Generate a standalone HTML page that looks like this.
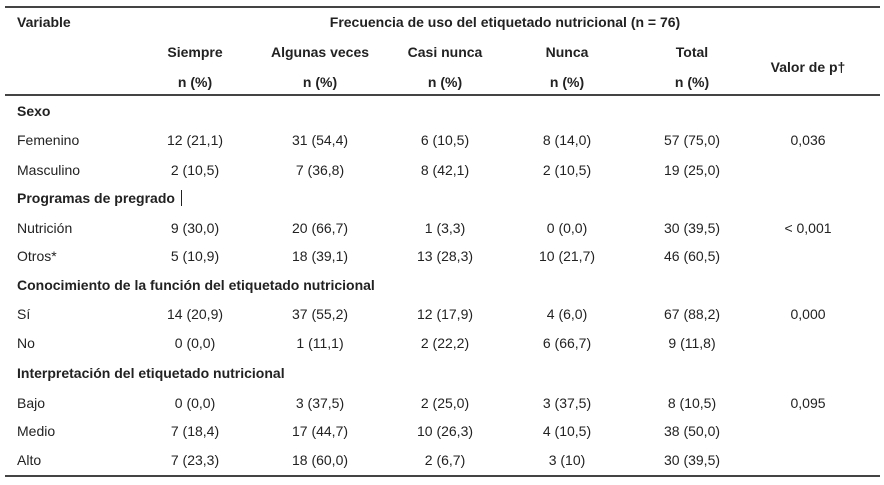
<!DOCTYPE html>
<html><head><meta charset="utf-8"><style>
body{margin:0;width:884px;height:485px;background:#fff;position:relative;overflow:hidden;font-family:"Liberation Sans",Arial,sans-serif;color:#222;font-size:14px}
.t{position:absolute;white-space:nowrap;line-height:16px;transform:translateY(-8px)}
.c{transform:translate(-50%,-8px)}
.b{font-weight:bold}
.hl{position:absolute;left:5px;width:875px;background:#444}
</style></head><body>
<div class="hl" style="top:6px;height:2px"></div>
<div class="hl" style="top:94px;height:2px"></div>
<div class="hl" style="top:475px;height:2px"></div>
<script>
const cols=[195,320,445,567,692,808];
function add(x,y,txt,cls){const d=document.createElement('div');d.className='t '+cls;d.style.left=x+'px';d.style.top=y+'px';d.textContent=txt;


document.body.appendChild(d);}
add(17,22,'Variable','b');
add(505,22,'Frecuencia de uso del etiquetado nutricional (n = 76)','b c');
['Siempre','Algunas veces','Casi nunca','Nunca','Total'].forEach((h,i)=>{add(cols[i],52,h,'b c');add(cols[i],82,'n (%)','b c');});
add(cols[5],67,'Valor de p†','b c');
const rows=[
[111,'Sexo'],
[140,'Femenino','12 (21,1)','31 (54,4)','6 (10,5)','8 (14,0)','57 (75,0)','0,036'],
[170,'Masculino','2 (10,5)','7 (36,8)','8 (42,1)','2 (10,5)','19 (25,0)',''],
[198,'Programas de pregrado'],
[228,'Nutrición','9 (30,0)','20 (66,7)','1 (3,3)','0 (0,0)','30 (39,5)','< 0,001'],
[256,'Otros*','5 (10,9)','18 (39,1)','13 (28,3)','10 (21,7)','46 (60,5)',''],
[285,'Conocimiento de la función del etiquetado nutricional'],
[314,'Sí','14 (20,9)','37 (55,2)','12 (17,9)','4 (6,0)','67 (88,2)','0,000'],
[343,'No','0 (0,0)','1 (11,1)','2 (22,2)','6 (66,7)','9 (11,8)',''],
[373,'Interpretación del etiquetado nutricional'],
[403,'Bajo','0 (0,0)','3 (37,5)','2 (25,0)','3 (37,5)','8 (10,5)','0,095'],
[431,'Medio','7 (18,4)','17 (44,7)','10 (26,3)','4 (10,5)','38 (50,0)',''],
[460,'Alto','7 (23,3)','18 (60,0)','2 (6,7)','3 (10)','30 (39,5)','']];
rows.forEach(r=>{if(r.length==2){add(17,r[0],r[1],'b');return;}
add(17,r[0],r[1],'');for(let i=0;i<6;i++)if(r[i+2])add(cols[i],r[0],r[i+2],'c');});
</script>
<div style="position:absolute;left:181px;top:190px;width:1px;height:16px;background:#222"></div>
</body></html>
